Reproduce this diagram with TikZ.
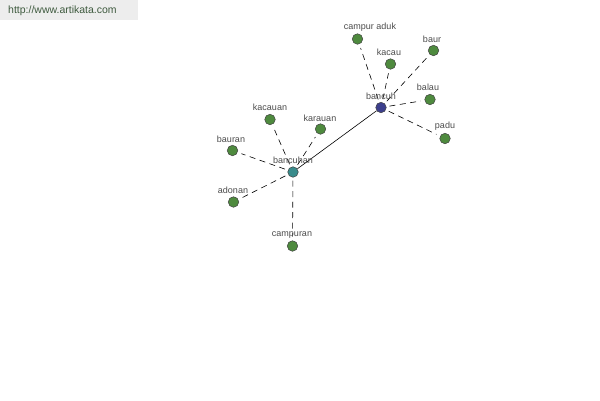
\documentclass[tikz,border=0pt]{standalone}
\usepackage{fontspec}
\setmainfont{Liberation Sans}
\begin{document}
\begin{tikzpicture}[x=1pt,y=-1pt,
  leaf/.style={circle,draw=black!75,fill=leafgreen,line width=0.5pt,minimum size=10.5pt,inner sep=0pt},
  hubA/.style={circle,draw=black!75,fill=hubblue,line width=0.5pt,minimum size=10.5pt,inner sep=0pt},
  hubB/.style={circle,draw=black!75,fill=hubteal,line width=0.5pt,minimum size=10.5pt,inner sep=0pt},
  lbl/.style={text=black!70,font=\fontsize{9}{10}\selectfont,inner sep=0pt},
  weak/.style={dash pattern=on 6pt off 4.5pt,line width=0.6pt,black,shorten <=3pt,shorten >=4pt},
  strong/.style={line width=0.6pt,black}]
\definecolor{leafgreen}{HTML}{4E8A3E}
\definecolor{hubblue}{HTML}{3C3F8C}
\definecolor{hubteal}{HTML}{3A8C8C}
\definecolor{wmtext}{HTML}{3E5A3E}
\useasboundingbox (0,0) rectangle (600,400);
\fill[white] (0,0) rectangle (600,400);
\fill[black!7] (0,0) rectangle (138,20);
\node[anchor=west,text=wmtext,font=\fontsize{10.5}{12}\selectfont,inner sep=0pt] (wm) at (8,10.5) {http://www.artikata.com};

\node[hubA] (bancuh) at (381,107.5) {};
\node[hubB] (bancuhan) at (293,172) {};
\node[leaf] (campuraduk) at (357.5,39) {};
\node[leaf] (kacau) at (390.5,64) {};
\node[leaf] (baur) at (433.5,50.5) {};
\node[leaf] (balau) at (430,99.5) {};
\node[leaf] (padu) at (445,138.5) {};
\node[leaf] (kacauan) at (270,119.5) {};
\node[leaf] (karauan) at (320.5,129) {};
\node[leaf] (bauran) at (232.5,150.5) {};
\node[leaf] (adonan) at (233.5,202) {};
\node[leaf] (campuran) at (292.5,246) {};

\foreach \n in {campuraduk,kacau,baur,balau,padu}
  \draw[weak] (bancuh) -- (\n);
\foreach \n in {kacauan,karauan,bauran,adonan,campuran}
  \draw[weak] (bancuhan) -- (\n);
\draw[strong] (bancuh) -- (bancuhan);

\node[lbl] (lbancuh) at (381,96) {bancuh};
\node[lbl] (lbancuhan) at (293,160) {bancuhan};
\node[lbl] (lcampuraduk) at (370,27) {campur aduk};
\node[lbl] (lkacau) at (389,52) {kacau};
\node[lbl] (lbaur) at (432,39) {baur};
\node[lbl] (lbalau) at (428,87.5) {balau};
\node[lbl] (lpadu) at (445,126.5) {padu};
\node[lbl] (lkacauan) at (270,107.5) {kacauan};
\node[lbl] (lkarauan) at (320,118) {karauan};
\node[lbl] (lbauran) at (231,139) {bauran};
\node[lbl] (ladonan) at (233,190) {adonan};
\node[lbl] (lcampuran) at (292,235) {campuran};
\end{tikzpicture}
\end{document}
